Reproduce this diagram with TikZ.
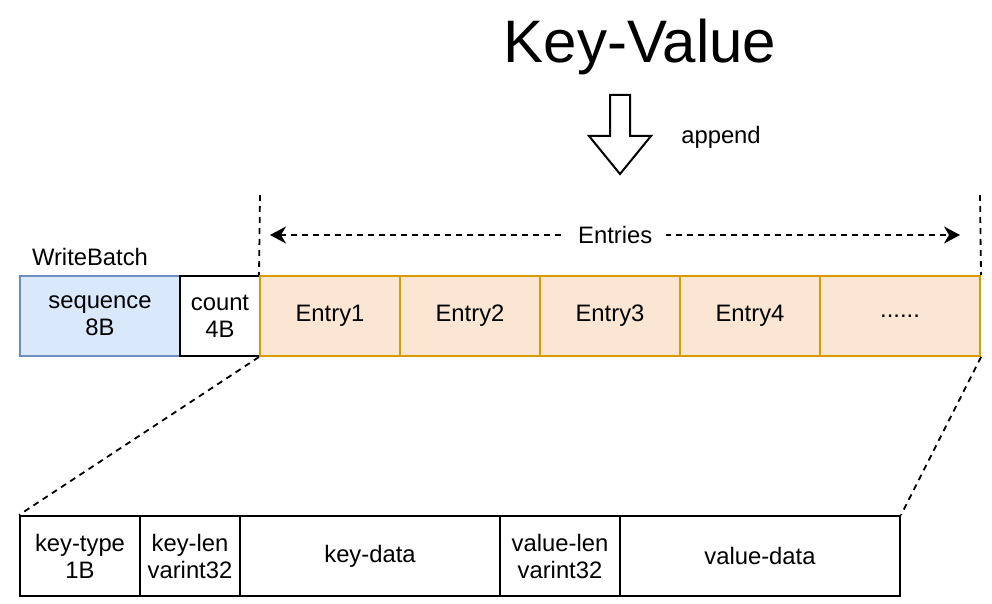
\documentclass[tikz,border=0pt]{standalone}
\usepackage{fontspec}
\setmainfont{Liberation Sans}
\usetikzlibrary{arrows.meta}
\definecolor{blueF}{HTML}{DAE8FC}
\definecolor{blueS}{HTML}{6C8EBF}
\definecolor{orF}{HTML}{FAE6D2}
\definecolor{orS}{HTML}{D79B00}
\tikzset{
  cell/.style={draw=black, fill=white, line width=2pt, minimum height=80pt, inner sep=0pt, align=center,
    font=\fontsize{23.8}{27}\selectfont},
  seqcell/.style={cell, draw=blueS, fill=blueF},
  entcell/.style={cell, draw=orS, fill=orF},
  dashline/.style={line width=1.8pt, dash pattern=on 6pt off 5pt},
  lbl/.style={inner sep=0pt, font=\fontsize{23.8}{27}\selectfont}
}
\begin{document}
\begin{tikzpicture}[x=1pt,y=-1pt]
\useasboundingbox (0,0) rectangle (992,604);
% title
\node[inner sep=0pt, font=\fontsize{60}{64}\selectfont] (title) at (640,47) {Key-Value};
% block arrow
\draw[line width=2pt, line join=miter, fill=white] (610,95) -- (630,95) -- (630,136) -- (651,136) -- (620,174) -- (589,136) -- (610,136) -- cycle;
\node[lbl] (append) at (721,137) {append};
% top row
\node[lbl] (wb) at (90,257) {WriteBatch};
\node[seqcell, minimum width=160pt] (seq) at (100,316) {sequence\\8B};
\node[cell, minimum width=80pt] (cnt) at (220,316) {count\\4B};
\node[entcell, minimum width=140pt] (e1) at (330,316) {Entry1};
\node[entcell, minimum width=140pt] (e2) at (470,316) {Entry2};
\node[entcell, minimum width=140pt] (e3) at (610,316) {Entry3};
\node[entcell, minimum width=140pt] (e4) at (750,316) {Entry4};
\node[entcell, minimum width=160pt] (e5) at (900,316) {......};
% bottom row
\node[cell, minimum width=120pt] (kt) at (80,556) {key-type\\1B};
\node[cell, minimum width=100pt] (kl) at (190,556) {key-len\\varint32};
\node[cell, minimum width=260pt] (kd) at (370,556) {key-data};
\node[cell, minimum width=120pt] (vl) at (560,556) {value-len\\varint32};
\node[cell, minimum width=280pt] (vd) at (760,556) {value-data};
% guides
\coordinate (tl) at (260,195);
\coordinate (tr) at (980,195);
\draw[dashline] (tl) -- (e1.north west);
\draw[dashline] (tr) -- (e5.north east);
\coordinate (al) at (270,235);
\coordinate (ar) at (960,235);
\draw[dashline, {Stealth[length=16pt,width=17pt,inset=5pt]}-{Stealth[length=16pt,width=17pt,inset=5pt]}] (al) -- (ar)
  node[pos=0.5004, lbl, fill=white, inner xsep=14pt, inner ysep=4pt] (entries) {Entries};
\draw[dashline] (e1.south west) -- (kt.north west);
\draw[dashline] (e5.south east) -- (vd.north east);
\end{tikzpicture}
\end{document}
